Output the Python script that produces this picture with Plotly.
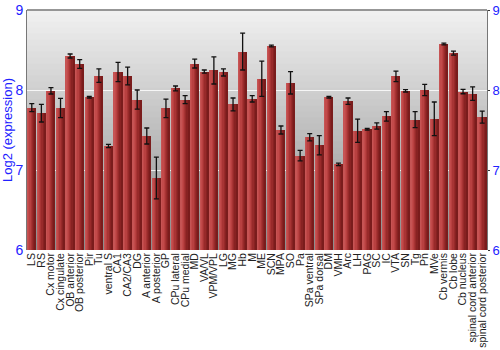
import plotly.graph_objects as go

categories = ["LS", "RS", "Cx motor", "Cx cingulate", "OB anterior", "OB posterior", "Pir", "Tu",
              "ventral S", "CA1", "CA2/CA3", "DG", "A anterior", "A posterior", "GP", "CPu lateral",
              "CPu medial", "MD", "VA/VL", "VPM/VPL", "LG", "MG", "Hb", "M", "ME", "SCN", "MPA", "SO",
              "Pa", "SPa ventral", "SPa dorsal", "DM", "VMH", "Arc", "LH", "PAG", "SC", "IC", "VTA",
              "SN", "Tg", "Pn", "MVe", "Cb vermis", "Cb lobe", "Cb nucleus",
              "spinal cord anterior", "spinal cord posterior"]
values = [7.78, 7.71, 7.99, 7.775, 8.425, 8.325, 7.91, 8.18,
          7.30, 8.225, 8.175, 7.88, 7.425, 6.90, 7.77, 8.02,
          7.88, 8.33, 8.23, 8.245, 8.22, 7.82, 8.48, 7.89, 8.14, 8.55, 7.50, 8.09,
          7.18, 7.41, 7.31, 7.91, 7.07, 7.86, 7.49, 7.51, 7.55, 7.67, 8.17,
          7.99, 7.63, 8.00, 7.64, 8.575, 8.46, 7.98,
          7.955, 7.66]
errors = [0.05, 0.11, 0.04, 0.12, 0.025, 0.055, 0.01, 0.085,
          0.02, 0.12, 0.11, 0.12, 0.10, 0.26, 0.115, 0.03,
          0.05, 0.055, 0.02, 0.17, 0.045, 0.08, 0.23, 0.04, 0.22, 0.01, 0.05, 0.14,
          0.065, 0.045, 0.12, 0.01, 0.015, 0.04, 0.145, 0.01, 0.04, 0.06, 0.065,
          0.015, 0.10, 0.07, 0.21, 0.01, 0.025, 0.027,
          0.085, 0.075]
y_ticks = [6, 7, 8, 9]

fig = go.Figure()

# bars drawn as vertical stripes to mimic a horizontal gradient
stripe_colors = ["#c65454", "#c24a4a", "#b84040", "#a83434", "#982a2a", "#882222", "#7a1c1c"]
bar_w = 0.88
n = len(stripe_colors)
sw = bar_w / n
for i, c in enumerate(stripe_colors):
    fig.add_trace(go.Bar(
        x=categories, y=values, width=sw * 1.02, offset=-bar_w / 2 + i * sw,
        marker=dict(color=c, line=dict(width=0)), showlegend=False, hoverinfo="skip"))

fig.add_trace(go.Scatter(
    x=categories, y=values, mode="markers", marker=dict(size=0.1, color="rgba(0,0,0,0)"),
    error_y=dict(type="data", array=errors, color="#111111", thickness=1.3, width=2.5),
    showlegend=False))

# vertical background gradient
shapes = []
nb = 40
top = (242, 242, 242)
bot = (140, 140, 140)
for k in range(nb):
    t = (k + 0.5) / nb
    col = tuple(int(top[j] + (bot[j] - top[j]) * t) for j in range(3))
    shapes.append(dict(type="rect", xref="paper", yref="paper", x0=0, x1=1,
                       y0=1 - (k + 1) / nb, y1=1 - k / nb + 0.002, layer="below",
                       fillcolor="rgb(%d,%d,%d)" % col, line=dict(width=0)))

fig.update_layout(
    width=500, height=350,
    margin=dict(l=27, r=13, t=10, b=100, autoexpand=False),
    paper_bgcolor="white", plot_bgcolor="rgba(0,0,0,0)",
    barmode="overlay", bargap=0,
    shapes=shapes,
    font=dict(family="Liberation Sans, Arial, sans-serif"),
    xaxis=dict(tickangle=-90, tickfont=dict(size=10.5, color="#222222"), showgrid=False,
               tickmode="array", tickvals=categories, ticktext=categories,
               ticks="", showline=False, range=[-0.5, len(categories) - 0.5],
               automargin=False),
    yaxis=dict(range=[6, 9], tickvals=y_ticks, tickfont=dict(size=14, color="#2222ff"),
               showgrid=True, gridcolor="rgba(255,255,255,0.8)", gridwidth=1,
               zeroline=False, showline=True, linecolor="#777777", mirror=False,
               ticks="", automargin=False,
               title=dict(text="Log2 (expression)", font=dict(size=13, color="#2222ff"),
                          standoff=4)),
    yaxis2=dict(range=[6, 9], tickvals=y_ticks, overlaying="y", side="right",
                tickfont=dict(size=13, color="#2222ff"), showgrid=False, zeroline=False,
                showline=True, linecolor="#777777", ticks="outside", ticklen=2,
                ticklabelstandoff=0,
                tickcolor="#333333", automargin=False),
)
fig.add_trace(go.Scatter(x=[categories[0]], y=[None], yaxis="y2", showlegend=False,
                         hoverinfo="skip"))
fig.add_shape(type="line", xref="paper", yref="paper", x0=0, x1=1, y0=1, y1=1,
              line=dict(color="#777777", width=1.5))

fig.write_html("out.html")
